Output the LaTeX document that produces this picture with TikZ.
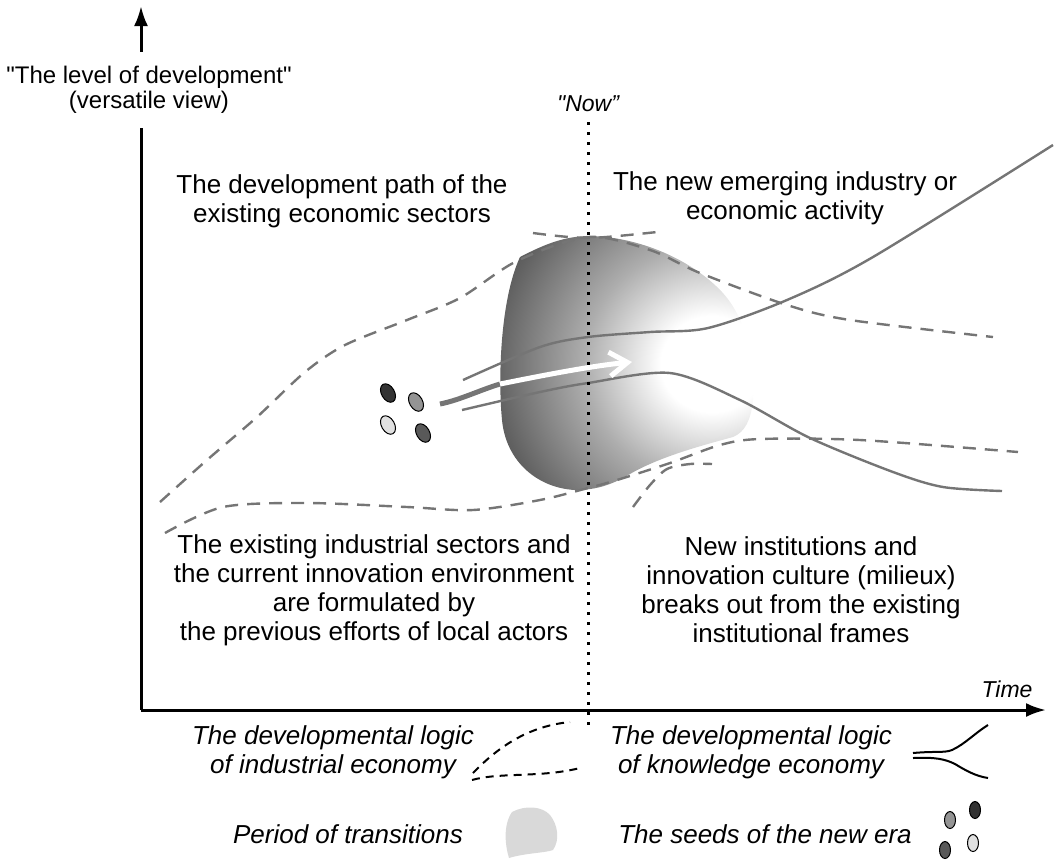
\documentclass[tikz,border=0pt]{standalone}
\usepackage{fontspec}
\setmainfont{Liberation Sans}[Ligatures=TeXOff]
\usetikzlibrary{arrows.meta,shapes.geometric}

\definecolor{strand}{gray}{0.46}
\pgfdeclareradialshading{transition}{\pgfpoint{0bp}{0bp}}{%
  color(0bp)=(white); color(4bp)=(white); color(10bp)=(black!32);
  color(17bp)=(black!62); color(23bp)=(black!80); color(50bp)=(black!82)}

\tikzset{
  txt/.style={align=center, inner sep=1pt, font=\fontsize{13}{14.5}\selectfont},
  legtxt/.style={align=center, inner sep=1pt, font=\fontsize{13}{14.5}\selectfont\itshape},
  industrial/.style={draw=strand, line width=1.2pt, dash pattern=on 6.5pt off 4.5pt},
  knowledge/.style={draw=strand, line width=1.2pt},
  legdash/.style={draw=black, line width=1pt, dash pattern=on 4pt off 3pt},
  legline/.style={draw=black, line width=1pt},
  seed/.style={ellipse, draw=black, line width=0.5pt, inner sep=0pt,
    minimum width=6.5pt, minimum height=10pt, rotate=30},
  smallseed/.style={seed, minimum width=5.5pt, minimum height=8.5pt, rotate=-30},
  axis/.style={line width=1.5pt},
  nowline/.style={line width=1.5pt, dash pattern=on 1.5pt off 3.5pt}
}

\begin{document}
\begin{tikzpicture}[x=0.5pt,y=-0.5pt]
  \useasboundingbox (0,0) rectangle (1054,859);

  % period of transitions
  \begin{scope}
    \clip (520,257) .. controls (545,244) and (565,236) .. (590,236)
      .. controls (640,237) and (692,260) .. (722,292)
      .. controls (746,318) and (756,360) .. (753,400)
      .. controls (751,420) and (745,432) .. (733,437)
      .. controls (700,446) and (655,458) .. (625,477)
      .. controls (608,486) and (594,490) .. (575,490)
      .. controls (538,488) and (506,462) .. (502,420)
      .. controls (498,380) and (500,300) .. (520,257) -- cycle;
    \shade[shading=transition] (712,364) ellipse [x radius=160pt, y radius=150pt];
  \end{scope}

  % industrial economy
  \draw[industrial] plot[smooth] coordinates {(160,502) (207,460) (257,417)
    (305,372) (345,345) (407,320) (460,298) (517,261) (588,237) (650,250)
    (700,273) (787,305) (850,320) (993,337)};
  \draw[industrial] plot[smooth] coordinates {(533,233) (588,238) (657,232)};
  \draw[industrial] plot[smooth] coordinates {(165,533) (223,507) (307,503)
    (407,507) (473,510) (540,500) (588,488) (617,480) (670,463) (720,445)
    (760,439) (860,440) (1018,452)};
  \draw[industrial] plot[smooth] coordinates {(633,507) (650,485) (667,469)
    (690,464) (712,464)};

  % knowledge economy
  \draw[knowledge] plot[smooth] coordinates {(463,380) (540,347) (588,337)
    (650,332) (708,328) (787,300) (873,257) (1053,145)};
  \draw[knowledge] plot[smooth] coordinates {(462,410) (540,392) (588,383)
    (670,373) (740,400) (810,438) (893,472) (943,487) (1002,491)};
  \draw[strand, line width=2.5pt] (440,404) .. controls (460,400) and (480,390) .. (500,384);
  \draw[white, line width=2.5pt, -{Straight Barb[length=9pt,width=12pt]}]
    (500,384) .. controls (540,376) and (590,366) .. (632,362);

  % seeds
  \node[seed, fill=black!80] (seedA) at (388,393) {};
  \node[seed, fill=black!42] (seedB) at (416,402) {};
  \node[seed, fill=black!12] (seedC) at (388,425) {};
  \node[seed, fill=black!65] (seedD) at (423,433) {};

  % axes
  \coordinate (origin) at (141,710);
  \coordinate (ytip) at (141,6);
  \coordinate (xtip) at (1046,710);
  \node[align=center, inner xsep=0pt, inner ysep=7pt,
    font=\fontsize{12}{12.5}\selectfont] (ylab) at (149,90)
    {"The level of development"\\(versatile view)};
  \draw[axis] (origin) -- (origin |- ylab.south);
  \draw[axis, -{Latex[length=10pt,width=7pt]}] (origin |- ylab.north) -- (ytip);
  \draw[axis, -{Latex[length=10pt,width=7pt]}] (origin) -- (xtip);
  \node[font=\fontsize{11.5}{12}\selectfont\itshape] (time) at (1007,689) {Time};

  % now
  \node[font=\fontsize{11.5}{12}\selectfont\itshape, inner sep=5pt] (now) at (588,104) {"Now”};
  \coordinate (nowend) at (588,728);
  \draw[nowline] (now) -- (nowend);

  \node[txt] (oldpath) at (342,201) {The development path of the\\existing economic sectors};
  \node[txt] (newpath) at (785,198) {The new emerging industry or\\economic activity};
  \node[txt] (oldinst) at (374,590) {The existing industrial sectors and\\the current innovation environment\\are formulated by\\the previous efforts of local actors};
  \node[txt] (newinst) at (801,590) {New institutions and\\innovation culture (milieux)\\breaks out from the existing\\institutional frames};

  % legend
  \node[legtxt] (legind) at (333,752) {The developmental logic\\of industrial economy};
  \node[legtxt] (legknow) at (751,752) {The developmental logic\\of knowledge economy};
  \node[legtxt] (legtrans) at (348,834) {Period of transitions};
  \node[legtxt] (legseed) at (765,834) {The seeds of the new era};

  \draw[legdash] (473,773) .. controls (500,745) and (530,726) .. (570,722);
  \draw[legdash] (472,780) .. controls (500,772) and (540,778) .. (580,768);
  \draw[legline] (913,753) .. controls (935,751) and (945,753) .. (952,750)
    .. controls (965,744) and (975,733) .. (988,725);
  \draw[legline] (913,758) .. controls (935,757) and (945,759) .. (955,764)
    .. controls (965,770) and (975,776) .. (988,778);
  \fill[black!15] (512,812) .. controls (525,805) and (542,806) .. (550,815)
    .. controls (558,825) and (560,840) .. (553,850)
    .. controls (545,853) and (525,853) .. (509,858)
    .. controls (505,845) and (503,825) .. (512,812) -- cycle;
  \node[smallseed, fill=black!42] (legB) at (950,820) {};
  \node[smallseed, fill=black!80] (legA) at (975,810) {};
  \node[smallseed, fill=black!65] (legD) at (945,850) {};
  \node[smallseed, fill=black!12] (legC) at (973,843) {};
\end{tikzpicture}
\end{document}
